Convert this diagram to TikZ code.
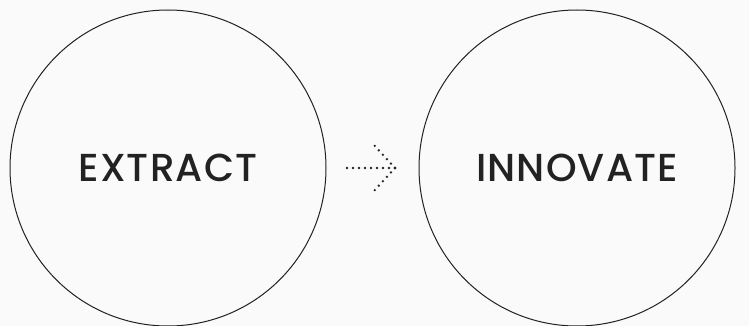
\documentclass[tikz,border=0pt]{standalone}
\usepackage{fontspec}
\setmainfont{Poppins Medium}[LetterSpace=3]
\usetikzlibrary{positioning}
\definecolor{bgcol}{HTML}{FAFAFA}
\definecolor{inkcol}{HTML}{222222}
\begin{document}
\begin{tikzpicture}[x=1pt,y=-1pt,
    word/.style={circle,draw=inkcol,line width=1pt,minimum size=316pt,inner sep=0pt,
      font=\fontsize{39}{42}\selectfont,text=inkcol},
    dots/.style={inkcol,line width=2.6pt,line cap=round,dash pattern=on 0pt off 6pt}]
    \fill[bgcol] (0,0) rectangle (749,326);
    \useasboundingbox (0,0) rectangle (749,326);
    \node[word] (extract) at (168,168) {EXTRACT};
    \node[word] (innovate) at (577,168) {INNOVATE};
    \coordinate (tail) at (347,168);
    \coordinate (tip) at (395,168);
    \draw[dots] (tail) -- (tip);
    \draw[dots] (tip) -- ++(-22,-24);
    \draw[dots] (tip) -- ++(-22,24);
  \end{tikzpicture}
\end{document}
